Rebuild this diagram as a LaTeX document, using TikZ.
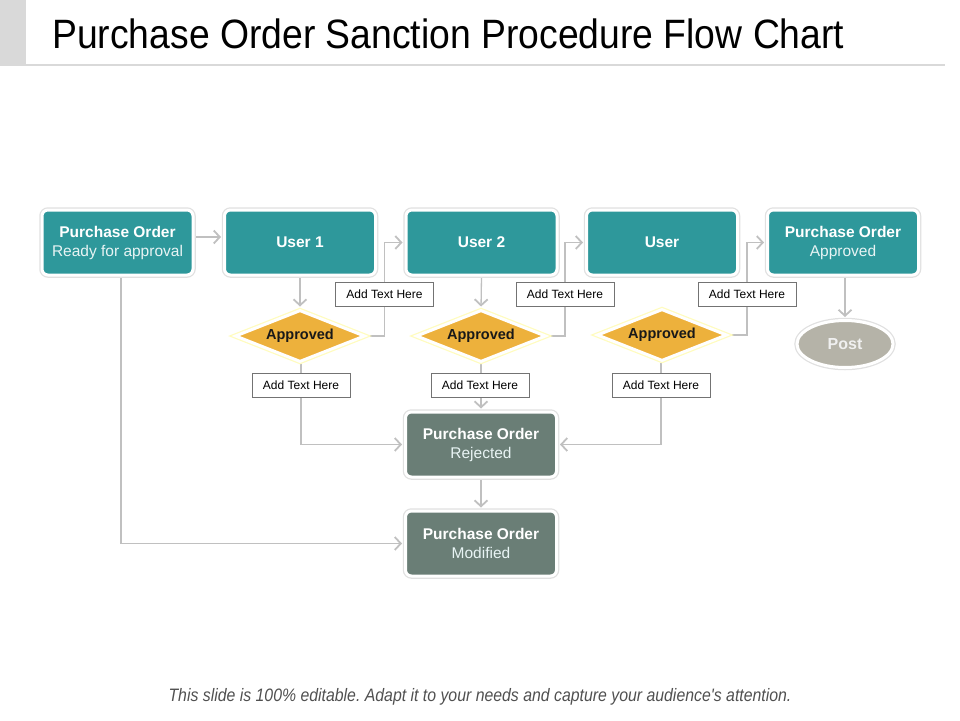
\documentclass[tikz,border=0pt]{standalone}
\usepackage{fontspec}
\setmainfont{Liberation Sans}
\newfontfamily\footfont{Liberation Sans}[Ligatures=TeXOff]
\usetikzlibrary{shapes.geometric,arrows.meta}
\frenchspacing
\definecolor{teal1}{RGB}{46,152,155}
\definecolor{rejcol}{RGB}{106,126,118}
\definecolor{amber}{RGB}{237,177,60}
\definecolor{postcol}{RGB}{181,179,168}
\definecolor{conncol}{RGB}{192,192,192}
\definecolor{barcol}{RGB}{217,217,217}
\definecolor{subtxt}{RGB}{232,244,244}
\definecolor{foot}{RGB}{80,80,80}
\pgfdeclarelayer{bg}
\pgfsetlayers{bg,main}
\tikzset{
  glow/.style={preaction={draw=#1, line width=5.5pt}, draw=white, line width=3pt},
  boxbase/.style={rectangle, rounded corners=6pt, minimum width=151pt, minimum height=65pt,
    inner sep=0pt, align=center, text=white, glow=black!12,
    font=\fontsize{15.5}{19}\selectfont},
  tealbox/.style={boxbase, fill=teal1},
  greybox/.style={boxbase, fill=rejcol},
  decision/.style={diamond, aspect=2.5, minimum width=130pt, minimum height=52pt, inner sep=0pt,
    fill=amber, glow={yellow!25}, text=black!90, font=\fontsize{14.5}{17}\selectfont\bfseries},
  endnode/.style={ellipse, minimum width=96pt, minimum height=47pt, inner sep=0pt,
    fill=postcol, glow=black!12, text=white!94!black, font=\fontsize{16}{19}\selectfont\bfseries},
  notebox/.style={rectangle, draw=black!55, line width=0.8pt, fill=white, minimum width=98pt,
    minimum height=24pt, inner sep=0pt, font=\fontsize{12}{14}\selectfont},
  conn/.style={draw=conncol, line width=1.3pt, -{Straight Barb[length=6pt,width=13pt,line width=1.8pt]}, shorten >=2pt},
}
\begin{document}
\begin{tikzpicture}[x=1pt,y=-1pt]
\useasboundingbox (0,0) rectangle (960,720);
% header
\fill[barcol] (0,0) rectangle (26,66);
\draw[barcol, line width=2pt] (26,65) -- (945,65);
\node[anchor=base west, inner sep=0pt, font=\fontsize{41}{44}\selectfont] (title) at (52,48)
  {\scalebox{0.91}[1]{Purchase Order Sanction Procedure Flow Chart}};
% top row
\node[tealbox] (po1) at (117.5,242.5) {\textbf{Purchase Order}\\\textcolor{subtxt}{Ready for approval}};
\node[tealbox] (u1) at (300,242.5) {\textbf{User 1}};
\node[tealbox] (u2) at (481.5,242.5) {\textbf{User 2}};
\node[tealbox] (u3) at (662,242.5) {\textbf{User}};
\node[tealbox] (po2) at (843,242.5) {\textbf{Purchase Order}\\\textcolor{subtxt}{Approved}};
% decisions
\node[decision] (d1) at (300,336) {Approved};
\node[decision] (d2) at (481,336) {Approved};
\node[decision] (d3) at (662,335) {Approved};
\node[endnode] (post) at (845,344) {Post};
% notes
\node[notebox] (t1) at (384.5,294) {Add Text Here};
\node[notebox] (t2) at (565,294) {Add Text Here};
\node[notebox] (t3) at (747,294) {Add Text Here};
\node[notebox] (b1) at (301,385) {Add Text Here};
\node[notebox] (b2) at (480,385) {Add Text Here};
\node[notebox] (b3) at (661,385) {Add Text Here};
% bottom boxes
\node[greybox] (rej) at (481,444.5) {\textbf{Purchase Order}\\\textcolor{subtxt}{Rejected}};
\node[greybox] (mod) at (481,543.5) {\textbf{Purchase Order}\\\textcolor{subtxt}{Modified}};
% footer
\node[font=\footfont\fontsize{18}{20}\selectfont\itshape, text=foot, inner sep=0pt] (foot) at (480,697)
  {\scalebox{0.88}[1]{This slide is 100\% editable. Adapt it to your needs and capture your audience's attention.}};
% connectors
\begin{pgfonlayer}{bg}
\draw[conn] ([yshift=5.5pt]po1.east) -- ([yshift=5.5pt]u1.west);
\draw[conn] (u1.south) -- (d1.north);
\draw[conn] (u2.south) -- (d2.north);
\draw[conn] (po2.south -| post.north) -- (post.north);
\draw[conn] (d1.east) -| (t1.center) |- (u2.west);
\draw[conn] (d2.east) -| (t2.center) |- (u3.west);
\draw[conn] (d3.east) -| (t3.center) |- (po2.west);
\draw[conn] (d1.south -| b1.north) |- (rej.west);
\draw[conn] (d2.south) -- (rej.north);
\draw[conn] (d3.south -| b3.north) |- (rej.east);
\draw[conn] (rej.south) -- (mod.north);
\draw[conn] ([xshift=3.5pt]po1.south) |- (mod.west);
\end{pgfonlayer}
\end{tikzpicture}
\end{document}
